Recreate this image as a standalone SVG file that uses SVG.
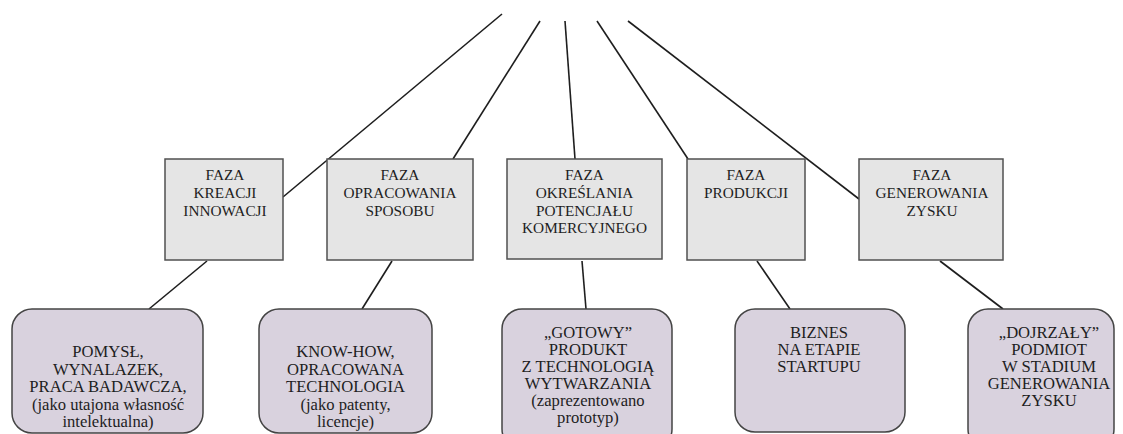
<svg xmlns="http://www.w3.org/2000/svg" width="1123" height="434" viewBox="0 0 1123 434">
<style>
.phase{fill:#e5e5e5;stroke:#505050;stroke-width:1.5}
.out{fill:#d9d2de;stroke:#444;stroke-width:1.5}
.t{font-family:"Liberation Serif","Times New Roman",serif;fill:#1e1e1e;text-anchor:middle}
.tp{font-size:15.3px}
.to{font-size:16.6px}
.c line{stroke:#1e1e1e;stroke-width:1.6}
</style>
<rect width="1123" height="434" fill="#ffffff"/>
<g class="c" id="connectors">
<line x1="502" y1="14" x2="283" y2="197"/>
<line x1="540" y1="21" x2="453" y2="159"/>
<line x1="565" y1="21" x2="575" y2="159"/>
<line x1="597" y1="21" x2="688" y2="159"/>
<line x1="628" y1="21" x2="859" y2="199"/>
<line x1="207" y1="261" x2="149" y2="309"/>
<line x1="392" y1="261" x2="362" y2="309"/>
<line x1="582" y1="261" x2="586" y2="309"/>
<line x1="757" y1="261" x2="790" y2="309"/>
<line x1="940" y1="261" x2="1003" y2="309"/>
</g>
<g id="phase1">
<rect class="phase" x="165" y="159" width="118" height="101"/>
<text class="t tp"><tspan x="225" y="180">FAZA</tspan><tspan x="225" y="198">KREACJI</tspan><tspan x="225" y="216">INNOWACJI</tspan></text>
</g>
<g id="phase2">
<rect class="phase" x="327" y="159" width="146" height="101"/>
<text class="t tp"><tspan x="400" y="180">FAZA</tspan><tspan x="400" y="198">OPRACOWANIA</tspan><tspan x="400" y="216">SPOSOBU</tspan></text>
</g>
<g id="phase3">
<rect class="phase" x="507" y="159" width="155" height="100"/>
<text class="t tp"><tspan x="584.5" y="180">FAZA</tspan><tspan x="584.5" y="198">OKREŚLANIA</tspan><tspan x="584.5" y="216">POTENCJAŁU</tspan><tspan x="584.5" y="233">KOMERCYJNEGO</tspan></text>
</g>
<g id="phase4">
<rect class="phase" x="687" y="159" width="118" height="101"/>
<text class="t tp"><tspan x="746" y="180">FAZA</tspan><tspan x="746" y="198">PRODUKCJI</tspan></text>
</g>
<g id="phase5">
<rect class="phase" x="859" y="159" width="144" height="101"/>
<text class="t tp"><tspan x="932" y="180">FAZA</tspan><tspan x="932" y="198">GENEROWANIA</tspan><tspan x="932" y="216">ZYSKU</tspan></text>
</g>
<g id="outcome1">
<rect class="out" x="12" y="309" width="191" height="124" rx="20" ry="20"/>
<text class="t to"><tspan x="108" y="357">POMYSŁ,</tspan><tspan x="108" y="375">WYNALAZEK,</tspan><tspan x="108" y="392">PRACA BADAWCZA,</tspan><tspan x="108" y="410">(jako utajona własność</tspan><tspan x="108" y="427">intelektualna)</tspan></text>
</g>
<g id="outcome2">
<rect class="out" x="259" y="309" width="173" height="124" rx="20" ry="20"/>
<text class="t to"><tspan x="345.5" y="357">KNOW-HOW,</tspan><tspan x="345.5" y="375">OPRACOWANA</tspan><tspan x="345.5" y="392">TECHNOLOGIA</tspan><tspan x="345.5" y="410">(jako patenty,</tspan><tspan x="345.5" y="427">licencje)</tspan></text>
</g>
<g id="outcome3">
<rect class="out" x="502" y="309" width="170" height="140" rx="20" ry="20"/>
<text class="t to"><tspan x="588" y="338">„GOTOWY”</tspan><tspan x="588" y="355">PRODUKT</tspan><tspan x="588" y="372">Z TECHNOLOGIĄ</tspan><tspan x="588" y="389">WYTWARZANIA</tspan><tspan x="588" y="406">(zaprezentowano</tspan><tspan x="588" y="423">prototyp)</tspan></text>
</g>
<g id="outcome4">
<rect class="out" x="735" y="309" width="170" height="123" rx="20" ry="20"/>
<text class="t to"><tspan x="819" y="338">BIZNES</tspan><tspan x="819" y="355">NA ETAPIE</tspan><tspan x="819" y="372">STARTUPU</tspan></text>
</g>
<g id="outcome5">
<rect class="out" x="968" y="309" width="146" height="140" rx="20" ry="20"/>
<text class="t to"><tspan x="1049" y="338">„DOJRZAŁY”</tspan><tspan x="1049" y="355">PODMIOT</tspan><tspan x="1049" y="372">W STADIUM</tspan><tspan x="1049" y="389">GENEROWANIA</tspan><tspan x="1049" y="406">ZYSKU</tspan></text>
</g>
</svg>
